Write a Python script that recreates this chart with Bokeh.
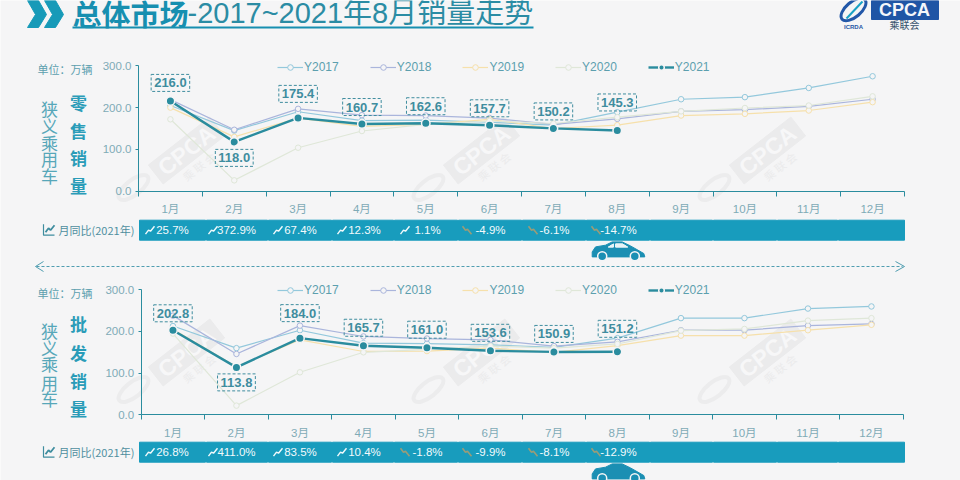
from bokeh.plotting import figure
from bokeh.models import Range1d, LinearAxis, FixedTicker, NumeralTickFormatter, Legend, LegendItem
from bokeh.core.properties import value
from bokeh.embed import file_html
from bokeh.resources import INLINE
import math

months = ["1月","2月","3月","4月","5月","6月","7月","8月","9月","10月","11月","12月"]
years = ["Y2017","Y2018","Y2019","Y2020","Y2021"]

retail_2017 = [205,145,190,169,170,165,158,189,220,225,247,275]
retail_2018 = [219,147,197,182,181,175,160,173,191,195,203,220]
retail_2019 = [200,130,175,155,160,172,150,158,181,185,193,213]
retail_2020 = [172,26,104,144,160,168,162,177,191,199,205,227]
retail_2021 = [216.0,118.0,175.4,160.7,162.6,157.7,150.2,145.3]
retail_yoy = ["25.7%","372.9%","67.4%","12.3%","1.1%","-4.9%","-6.1%","-14.7%"]

whole_2017 = [213,160,203,172,171,168,162,184,232,232,255,260]
whole_2018 = [238,146,214,188,183,180,165,175,203,203,214,218]
whole_2019 = [205,115,180,152,153,160,150,166,190,190,203,216]
whole_2020 = [195,22,102,150,157,165,160,170,202,206,226,232]
whole_2021 = [202.8,113.8,184.0,165.7,161.0,153.6,150.9,151.2]
whole_yoy = ["26.8%","411.0%","83.5%","10.4%","-1.8%","-9.9%","-8.1%","-12.9%"]

W, H = 960, 480
BG = "#f5f5f6"
TEAL = "#2a8c9e"
STRIP = "#189cbd"
SOFT = "#5c9fae"
LAT = "Liberation Sans, Noto Sans CJK SC"
CJK = "Noto Sans CJK SC"
COLORS = ["#93c8dc","#aab5dc","#f6e0ab","#dfe7d8",TEAL]

p = figure(width=W, height=H, output_backend="svg", toolbar_location=None,
           x_range=Range1d(0, W), y_range=Range1d(H, 0), min_border=0,
           x_axis_location=None, y_axis_location=None, background_fill_color=BG,
           border_fill_color=BG, outline_line_color=None)
p.grid.visible = False


def T(x, y, s, size, color, bold=False, align="left", font=CJK, angle=0.0):
    p.text([x], [y], text=[s], text_font=value(font), text_font_size=f"{size}px",
           text_color=color, text_align=align, text_baseline="middle",
           text_font_style="bold" if bold else "normal", angle=angle)


# ---- header
for dx in (0, 17):
    p.patch([27+dx, 38+dx, 46+dx, 38+dx, 27+dx, 35+dx],
            [0, 0, 14, 27, 27, 14], color="#179ab8")
T(72, 12.5, "总体市场", 29, "#178fb0", bold=True)
T(187, 12.5, "-2017~2021年8月销量走势", 29, "#2b8ca4", font=LAT)
p.line([72, 533], [27, 27], color="#178fb0", line_width=2)

# logo
p.quad(left=[871], right=[938], top=[0], bottom=[19], color="#1f55a5")
T(904, 9, "CPCA", 18, "#f4f6fa", bold=True, align="center", font="Liberation Sans")
T(904, 24, "乘联会", 10, "#34506a", align="center")
p.ellipse([853], [9], width=30, height=15, angle=0.7, fill_color=None, line_color="#2257a8", line_width=3)
p.line([846, 862], [18, 1], color="#19a1c4", line_width=2)
T(853, 26, "ICRDA", 6, "#1f55a5", bold=True, align="center", font="Liberation Sans")

# dashed divider
p.line([36, 902], [266, 266], color="#4f9db0", line_dash="3 2", line_width=1)
p.multi_line([[43, 35, 43], [895, 904, 895]], [[261, 266, 271], [261, 266, 271]], color="#4f9db0")


# ---- watermarks
def watermark(cx, cy):
    a = math.radians(38)
    p.rect([cx], [cy], width=78, height=24, angle=a, color="#ebebec")
    T(cx, cy, "CPCA", 23, "#f7f7f8", bold=True, align="center", font="Liberation Sans", angle=a)
    ux, uy = math.sin(a)*20, math.cos(a)*20
    T(cx+ux, cy+uy, "乘 联 会", 11, "#ebebec", align="center", angle=a)
    p.ellipse([cx-53], [cy+37], width=36, height=15, angle=a, fill_color=None, line_color="#ececed", line_width=4)


for wy in (150, 352):
    for wx in (186, 481, 767):
        watermark(wx, wy)


# ---- one panel
def panel(name, x0, x1, y0, y300, series, cur, yoy, label_off, strip_top, title, cn_ys, title_ys, legend_y):
    mw = (x1-x0)/12.0
    xr, yr = f"mx{name}", f"my{name}"
    p.extra_x_ranges[xr] = Range1d(-x0/mw, (W-x0)/mw)
    k = (y0-y300)/300.0
    p.extra_y_ranges[yr] = Range1d((y0-H)/k, y0/k)

    yax = LinearAxis(x_range_name="default", y_range_name=yr, fixed_location=x0,
                     ticker=FixedTicker(ticks=[0, 100, 200, 300]),
                     formatter=NumeralTickFormatter(format="0.0"), bounds=(0, 300))
    xax = LinearAxis(x_range_name=xr, y_range_name="default", fixed_location=y0,
                     ticker=FixedTicker(ticks=[i+0.5 for i in range(12)], minor_ticks=list(range(13))),
                     major_label_overrides={i+0.5: m for i, m in enumerate(months)}, bounds=(0, 12))
    for ax in (yax, xax):
        ax.axis_line_color = TEAL
        ax.major_tick_line_color = TEAL
        ax.minor_tick_line_color = TEAL
        ax.major_label_text_color = "#7fabb6"
        ax.major_label_text_font = LAT
        ax.major_label_text_font_size = "11.5px"
    yax.major_tick_in = 0
    yax.major_tick_out = 3
    yax.minor_tick_out = 0
    yax.major_label_standoff = 4
    xax.major_tick_in = 0
    xax.major_tick_out = 0
    xax.minor_tick_in = 0
    xax.minor_tick_out = 5
    xax.major_label_standoff = 7
    p.add_layout(yax, "left")
    p.add_layout(xax, "below")

    xs = [i+0.5 for i in range(12)]
    items = []
    for i, s in enumerate(series):
        kw = dict(x_range_name=xr, y_range_name=yr)
        l = p.line(xs[:len(s)], s, color=COLORS[i], line_width=1.2, **kw)
        c = p.scatter(xs[:len(s)], s, size=5.5, fill_color=BG, line_color=COLORS[i], **kw)
        items.append(LegendItem(label=years[i], renderers=[l, c]))
    kw = dict(x_range_name=xr, y_range_name=yr)
    l = p.line(xs[:len(cur)], cur, color=TEAL, line_width=2.4, **kw)
    c = p.scatter(xs[:len(cur)], cur, size=8.5, fill_color=TEAL, line_color=BG, line_width=1.5, **kw)
    items.append(LegendItem(label=years[4], renderers=[l, c]))
    leg = Legend(items=items, orientation="horizontal", location=(277, H-legend_y-8), spacing=31,
                 glyph_width=26, glyph_height=14, label_standoff=1, padding=0, margin=0,
                 background_fill_alpha=0, border_line_color=None, label_text_color=SOFT,
                 label_text_font=LAT, label_text_font_size="12px")
    p.add_layout(leg)

    p.text(xs[:len(cur)], cur, text=[f"{v:.1f}" for v in cur], y_offset=label_off,
           text_align="center", text_baseline="middle", text_font=value(LAT), text_font_size="13px",
           text_font_style="bold", text_color="#3f8d9f", border_line_color="#3f8d9f",
           border_line_dash="3 2", border_line_width=1, padding=(3, 4), x_range_name=xr, y_range_name=yr)

    # side texts
    T(37, y300+3, "单位:\u3000万辆".replace(":\u3000", "\uff1a"), 11, SOFT)
    for ch, yy in zip("狭义乘用车", cn_ys):
        T(49, yy, ch, 17, "#57a7b9", align="center")
    for ch, yy in zip(title, title_ys):
        T(78, yy, ch, 17, "#2a9cb8", bold=True, align="center")

    # strip
    edges = [139, 206, 268, 332, 394, 458, 522, 586, 650, 713, 777, 838, 905]
    p.quad(left=edges[:-1], right=[e-1 for e in edges[1:]], top=[strip_top]*12,
           bottom=[strip_top+20]*12, color=STRIP)
    ym = strip_top+10
    T(58, ym, "月同比(2021年)", 11, "#4f8f9f")
    p.line([43, 43, 54], [ym-6, ym+5, ym+5], color="#3f8d9f", line_width=1.2)
    p.line([45, 48, 50, 54], [ym+2, ym-2, ym, ym-5], color="#3f8d9f", line_width=1.8)
    centres = [172, 236, 300, 364, 427, 490, 554, 618]
    icons = [145, 208, 273, 337, 400, 462, 528, 591]
    for s, cx, ix in zip(yoy, centres, icons):
        T(cx, ym, s, 11.5, "#f2fafc", align="center", font=LAT)
        if s.startswith("-"):
            p.line([ix, ix+3, ix+5, ix+9], [ym-4, ym, ym-1, ym+4], color="#9a9c78", line_width=1.6)
        else:
            p.line([ix, ix+3, ix+5, ix+9], [ym+4, ym, ym+1, ym-4], color="#f2fafc", line_width=1.4)

    # car
    dy = strip_top-220
    cx = [591.7, 595, 605, 611.7, 621.7, 630, 643.3, 644.3, 591.7]
    cy = [251.7, 246.7, 245, 241.7, 241.7, 245.7, 253.3, 256.7, 256.7]
    p.patch(cx, [v+dy for v in cy], color="#1b8fb3")
    p.patch([608, 613, 613], [246.5, 243.5, 246.5], color="#e8f4f7")
    p.patch([615, 622, 627, 615], [243.5, 243.5, 246.5, 246.5], color="#e8f4f7")
    p.scatter([601.7, 634.3], [256+dy]*2, size=9, fill_color="#1b8fb3", line_color=BG, line_width=1.5)


panel("a", 138, 904, 190.7, 65.3,
      [retail_2017, retail_2018, retail_2019, retail_2020], retail_2021, retail_yoy,
      [-18, 16, -24, -17, -17, -17, -17, -28], 219.7, "零售销量",
      [108, 125, 142, 158, 175], [102, 130, 157, 185], 66)
panel("b", 140.7, 902.7, 414.3, 289.3,
      [whole_2017, whole_2018, whole_2019, whole_2020], whole_2021, whole_yoy,
      [-17, 15, -25, -18, -18, -18, -18, -23], 441.7, "批发销量",
      [330, 347, 363, 382, 398], [323, 352, 380, 408], 288.5)

open("out.html", "w").write(file_html(p, INLINE))
